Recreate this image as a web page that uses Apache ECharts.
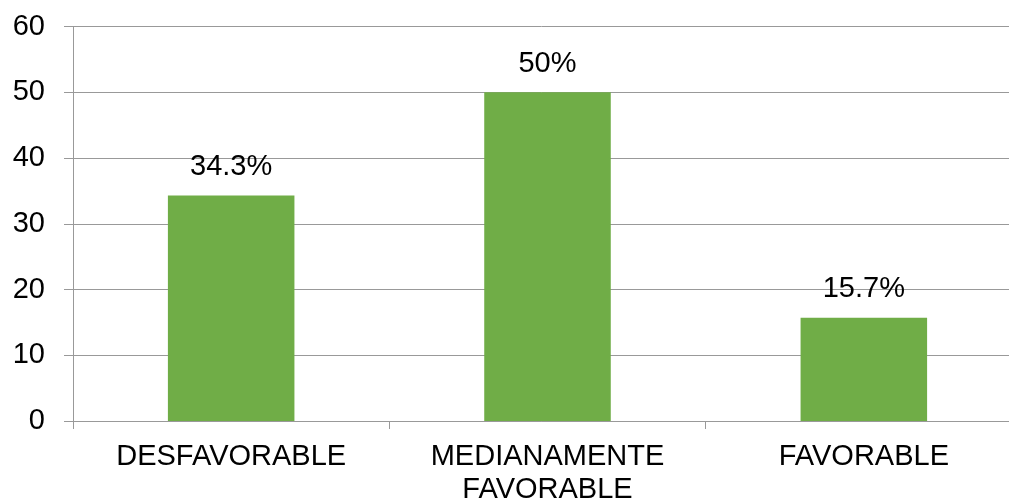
<!DOCTYPE html>
<html>
<head>
<meta charset="utf-8">
<script src="https://cdn.jsdelivr.net/npm/echarts@6/dist/echarts.min.js"></script>
<style>html,body{margin:0;padding:0;background:#fff;}#c{width:1009px;height:499px;}</style>
</head>
<body>
<div id="c"></div>
<script>
var categories = ['DESFAVORABLE', 'MEDIANAMENTE\nFAVORABLE', 'FAVORABLE'];
var values = [34.3, 50, 15.7];
var valueLabels = ['34.3%', '50%', '15.7%'];
var yTicks = { min: 0, max: 60, interval: 10 };

var FONT = '"Liberation Sans", Arial, sans-serif';
var GRAY = '#999999';
var chart = echarts.init(document.getElementById('c'));
chart.setOption({
  animation: false,
  backgroundColor: '#ffffff',
  grid: { left: 73, right: -13, top: 26.5, bottom: 78, containLabel: false, outerBoundsMode: 'none' },
  xAxis: {
    type: 'category',
    data: categories,
    axisLine: { show: true, lineStyle: { color: GRAY, width: 1 } },
    axisTick: { show: true, length: 8, alignWithLabel: false, lineStyle: { color: GRAY } },
    axisLabel: { color: '#000', fontSize: 29, fontFamily: FONT, margin: 19, lineHeight: 33, interval: 0 },
    splitLine: { show: false }
  },
  yAxis: {
    type: 'value',
    min: yTicks.min, max: yTicks.max, interval: yTicks.interval,
    axisLine: { show: true, lineStyle: { color: GRAY, width: 1 } },
    axisTick: { show: true, length: 9, lineStyle: { color: GRAY } },
    axisLabel: { color: '#000', fontSize: 29, fontFamily: FONT, margin: 28 },
    splitLine: { show: true, lineStyle: { color: GRAY, width: 1 } }
  },
  series: [{
    type: 'bar',
    data: values,
    barWidth: '40%',
    itemStyle: { color: '#70AD47' },
    label: {
      show: true,
      position: 'top',
      distance: 14,
      color: '#000',
      fontSize: 29,
      fontFamily: FONT,
      formatter: function (p) { return valueLabels[p.dataIndex]; }
    }
  }]
});
</script>
</body>
</html>
